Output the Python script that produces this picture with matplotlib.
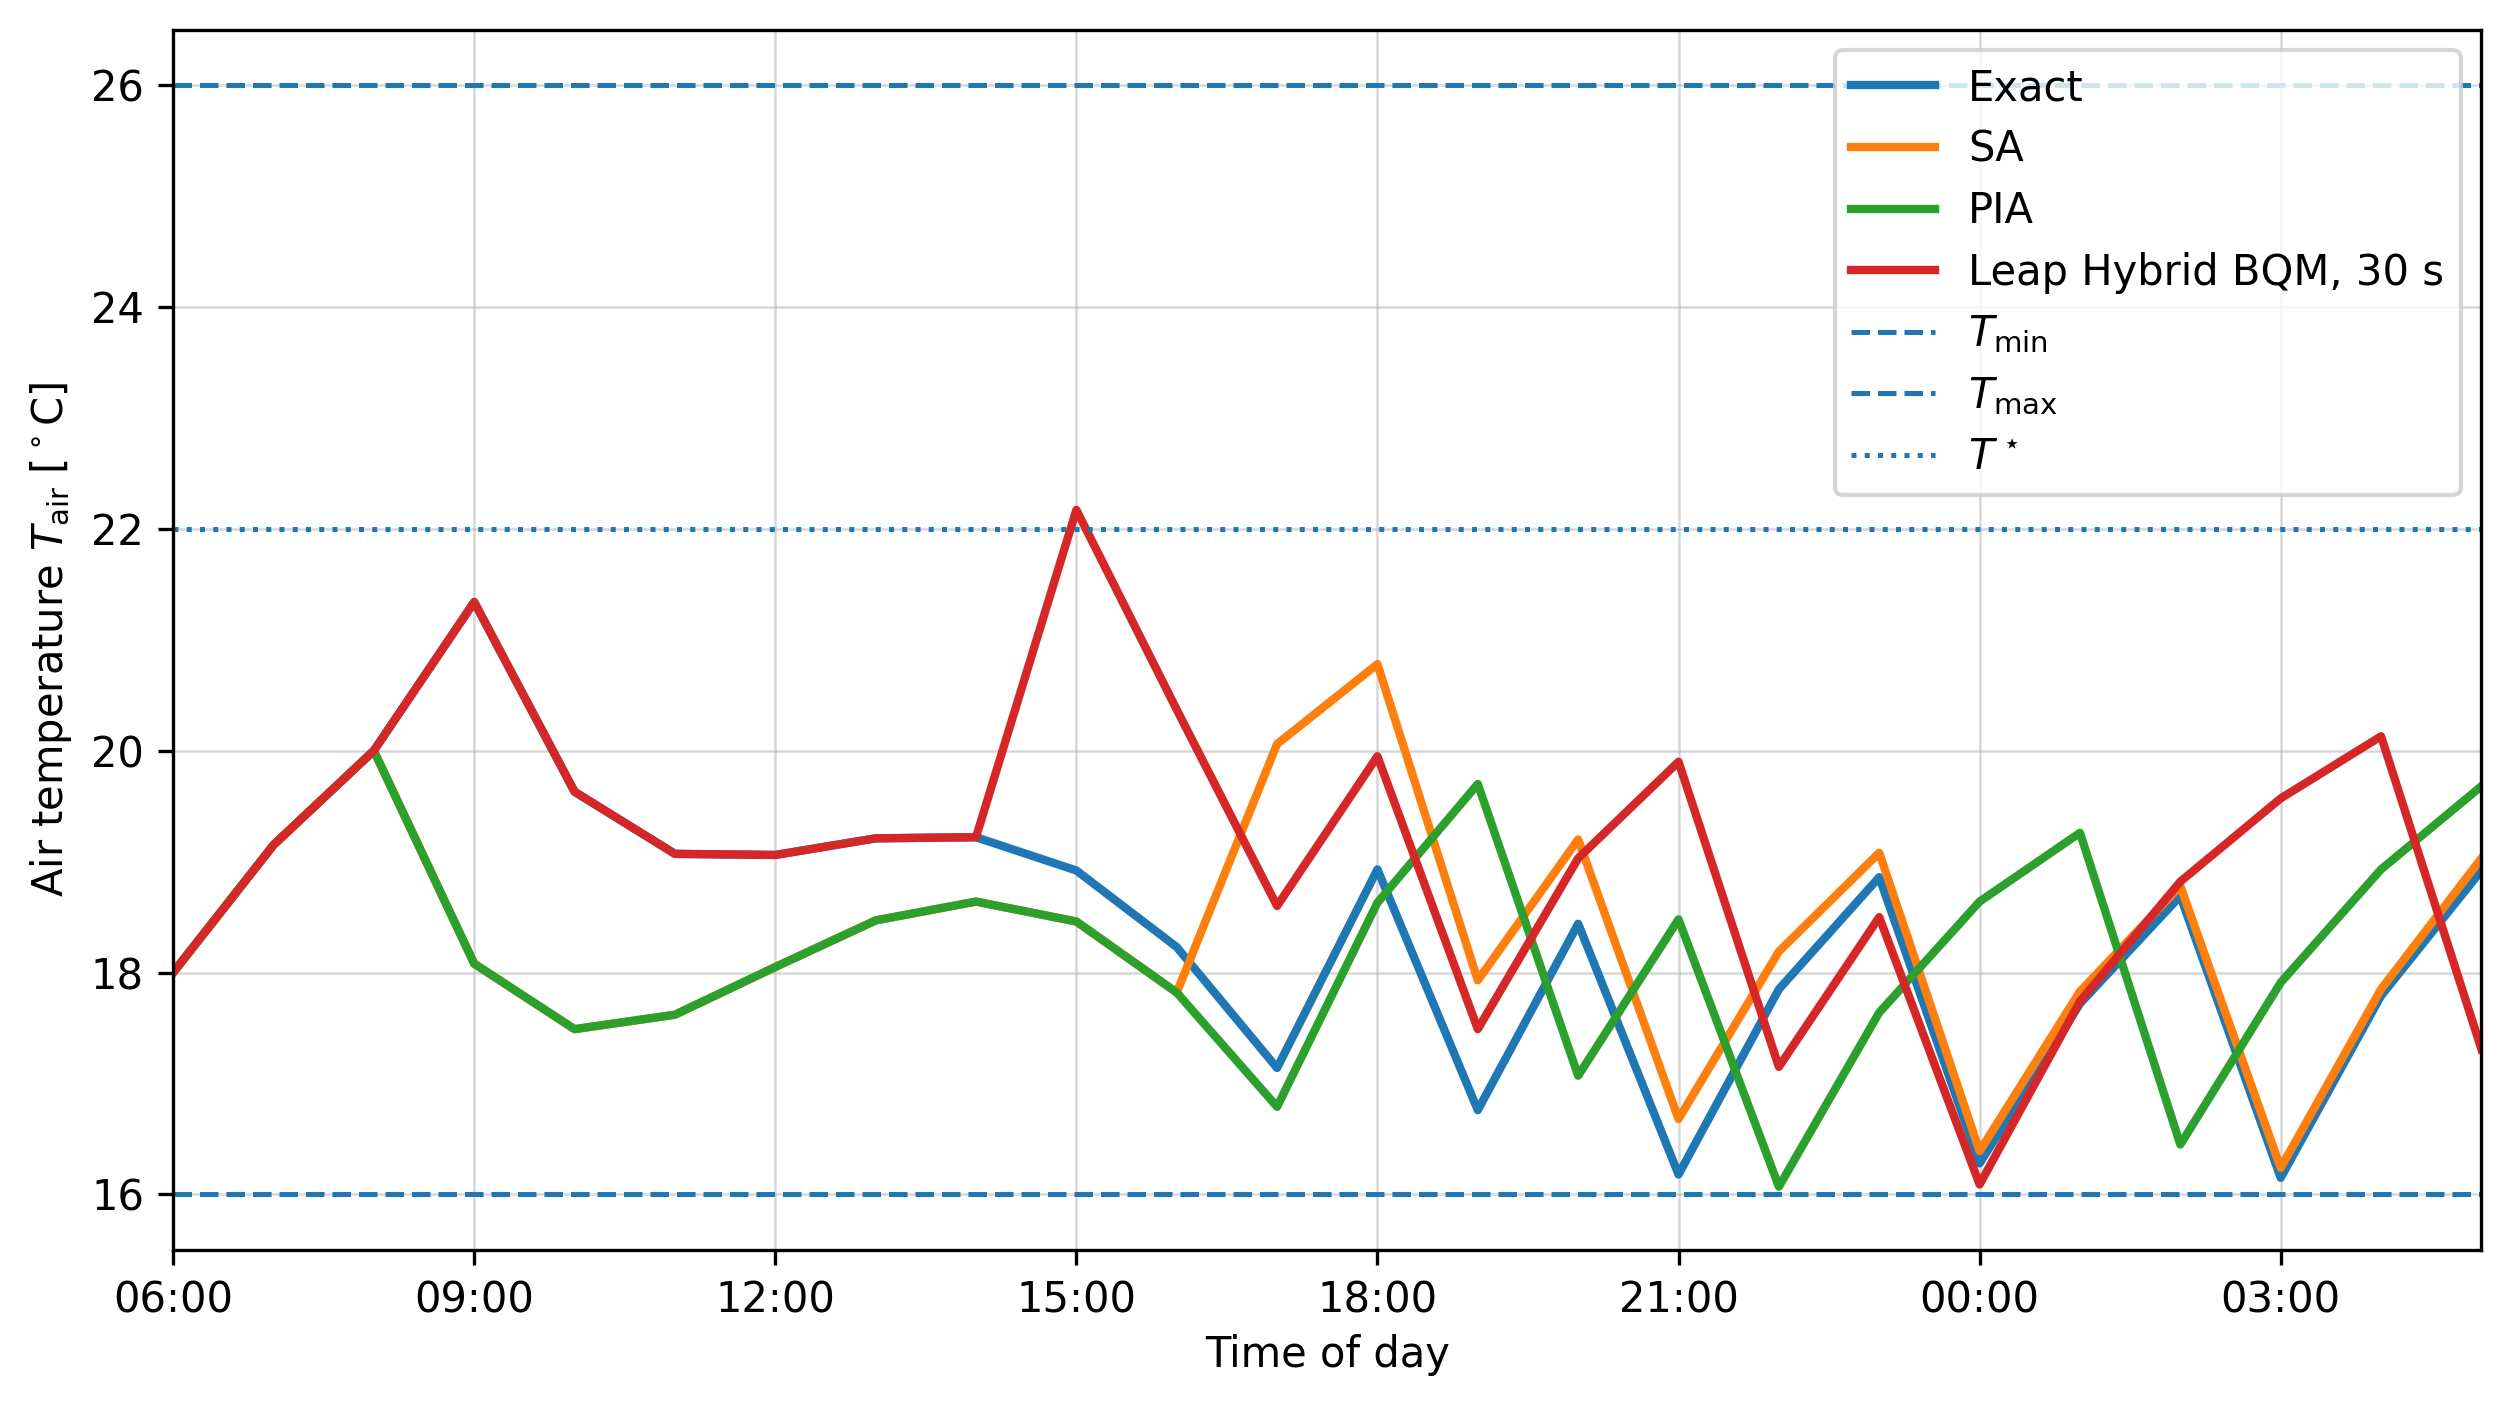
import matplotlib
matplotlib.use("Agg")
import matplotlib.pyplot as plt
import numpy as np

# hourly schedule, 06:00 -> 05:00 next day
hours = np.arange(24)
tick_pos = [0, 3, 6, 9, 12, 15, 18, 21]
tick_labels = ['06:00', '09:00', '12:00', '15:00', '18:00', '21:00', '00:00', '03:00']

exact = [18.0, 19.15, 20.0, 21.34, 19.63, 19.07, 19.06, 19.21, 19.22, 18.92,
         18.23, 17.14, 18.93, 16.76, 18.44, 16.18, 17.85, 18.86, 16.28, 17.72,
         18.69, 16.15, 17.79, 18.92]
sa = [18.0, 19.15, 20.0, 18.08, 17.49, 17.62, 18.05, 18.47, 18.64, 18.46,
      17.82, 20.06, 20.78, 17.93, 19.20, 16.68, 18.19, 19.08, 16.39, 17.83,
      18.78, 16.24, 17.85, 19.03]
pia = [18.0, 19.15, 20.0, 18.08, 17.49, 17.62, 18.05, 18.47, 18.64, 18.46,
       17.82, 16.79, 18.63, 19.70, 17.07, 18.48, 16.07, 17.64, 18.64, 19.26,
       16.45, 17.91, 18.93, 19.68]
leap = [18.0, 19.15, 20.0, 21.34, 19.63, 19.07, 19.06, 19.21, 19.22, 22.17,
        20.37, 18.60, 19.95, 17.49, 19.03, 19.90, 17.15, 18.50, 16.09, 17.74,
        18.82, 19.57, 20.13, 17.31]

T_min = 16
T_max = 26
T_star = 22

fig = plt.figure(figsize=(2509 / 300, 1406 / 300), dpi=300)
ax = fig.add_axes([0.069, 0.111, 0.920, 0.868])

ax.plot(hours, exact, color='C0', lw=2, label='Exact')
ax.plot(hours, sa, color='C1', lw=2, label='SA')
ax.plot(hours, pia, color='C2', lw=2, label='PIA')
ax.plot(hours, leap, color='C3', lw=2, label='Leap Hybrid BQM, 30 s')

ax.axhline(T_min, color='C0', ls='--', lw=1.2, label=r'$T_\mathrm{min}$')
ax.axhline(T_max, color='C0', ls='--', lw=1.2, label=r'$T_\mathrm{max}$')
ax.axhline(T_star, color='C0', ls=':', lw=1.2, label=r'$T^\star$')

ax.set_xlim(0, 23)
ax.set_ylim(15.5, 26.5)
ax.set_xticks(tick_pos)
ax.set_xticklabels(tick_labels)
ax.set_yticks([16, 18, 20, 22, 24, 26])
ax.grid(True, color='#b0b0b0', alpha=0.5, lw=0.6)

ax.set_xlabel('Time of day', labelpad=3)
ax.set_ylabel(r'Air temperature $T_\mathrm{air}$ [$^\circ$C]')
ax.legend(loc='upper right', labelspacing=0.47)

fig.savefig('out.png', dpi=300)
